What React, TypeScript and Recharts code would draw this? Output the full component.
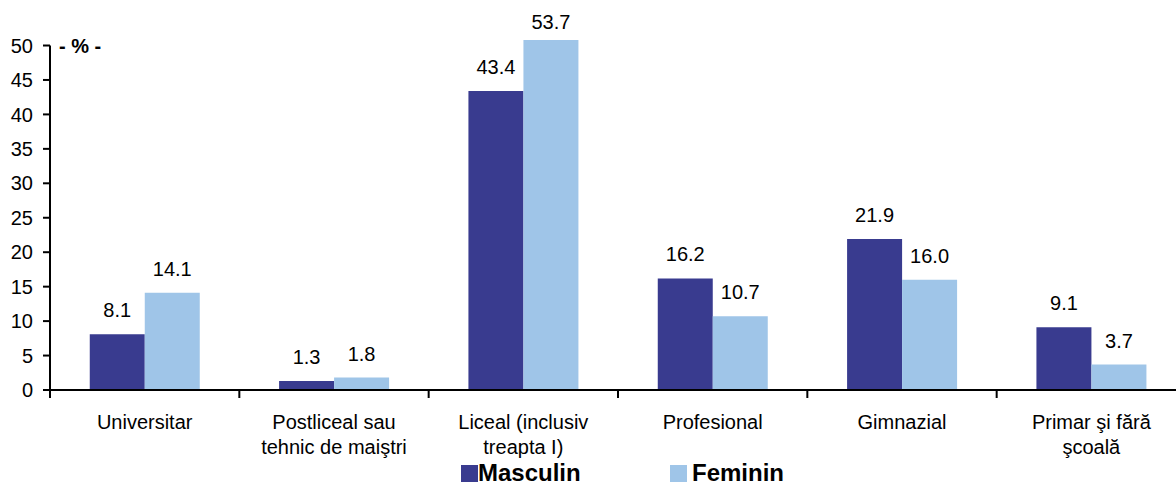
import React from "react";
import {
  BarChart,
  Bar,
  XAxis,
  YAxis,
  Legend,
  LabelList,
  Label,
  ReferenceLine
} from "recharts";

const categories = [
  "Universitar",
  "Postliceal sau tehnic de maiştri",
  "Liceal (inclusiv treapta I)",
  "Profesional",
  "Gimnazial",
  "Primar şi fără şcoală"
];
// how each category label wraps under the axis
const categoryLines = [
  ["Universitar"],
  ["Postliceal sau", "tehnic de maiştri"],
  ["Liceal (inclusiv", "treapta I)"],
  ["Profesional"],
  ["Gimnazial"],
  ["Primar şi fără", "şcoală"]
];
const masculin = [8.1, 1.3, 43.4, 16.2, 21.9, 9.1];
const feminin = [14.1, 1.8, 53.7, 10.7, 16.0, 3.7];
const yTicks = [0, 5, 10, 15, 20, 25, 30, 35, 40, 45, 50];

const FONT = "'Liberation Sans', Arial, sans-serif";
const TOP = 40;

const series = [
  { key: "Masculin", color: "#393b8f" },
  { key: "Feminin", color: "#9fc5e8" }
];

const data = categories.map((name, i) => ({
  name,
  Masculin: masculin[i],
  Feminin: feminin[i]
}));

const CategoryTick = (props: any) => {
  const { x, y, payload } = props;
  const lines: string[] = categoryLines[payload.index] || [payload.value];
  const edge = x - (payload.offset || 0);
  return (
    <g>
      <line x1={edge} y1={y} x2={edge} y2={y + 8} stroke="#000" strokeWidth={2} />
      {lines.map((l, i) => (
        <text
          key={i}
          x={x}
          y={y + 39 + i * 25}
          textAnchor="middle"
          fontSize={20}
          fontFamily={FONT}
          fill="#000"
        >
          {l}
        </text>
      ))}
    </g>
  );
};

const ValueLabel = (props: any) => {
  const { x, y, width, value } = props;
  const top = Math.max(y, TOP + 6);
  return (
    <text
      x={x + width / 2}
      y={top - 17}
      textAnchor="middle"
      fontSize={20}
      fontFamily={FONT}
      fill="#000"
    >
      {Number(value).toFixed(1)}
    </text>
  );
};

const LegendContent = () => (
  <div style={{ display: "flex", fontFamily: FONT }}>
    {series.map((s, i) => (
      <div key={s.key} style={{ display: "flex", alignItems: "flex-start", width: i === 0 ? 209 : "auto" }}>
        <span style={{ display: "inline-block", width: 17, height: 17, marginTop: 4, background: s.color }} />
        <span
          style={{
            fontSize: 24,
            lineHeight: "24px",
            fontWeight: "bold",
            color: "#000",
            marginLeft: i === 0 ? 0 : 5
          }}
        >
          {s.key}
        </span>
      </div>
    ))}
  </div>
);

export default function App() {
  return (
    <div style={{ position: "absolute", left: 0, top: 0, width: 1176, height: 486, overflow: "hidden", background: "#fff" }}>
      <BarChart
        width={1190}
        height={486}
        data={data}
        margin={{ top: TOP, right: 4, left: 0, bottom: 0 }}
        barCategoryGap="21%"
        barGap={0}
      >
        <XAxis
          dataKey="name"
          interval={0}
          height={96}
          tickSize={0}
          tickMargin={0}
          tickLine={false}
          axisLine={{ stroke: "#000", strokeWidth: 2 }}
          tick={<CategoryTick />}
        />
        <XAxis xAxisId="edge" type="number" domain={[0, 1]} hide />
        <YAxis
          domain={[0, 50.8]}
          allowDataOverflow
          ticks={yTicks}
          width={50}
          tickSize={7}
          tickMargin={10}
          axisLine={false}
          tickLine={{ stroke: "#000", strokeWidth: 2 }}
          tick={{ fontSize: 20, fontFamily: FONT, fill: "#000" }}
        >
          <Label
            content={(p: any) => (
              <text
                x={p.viewBox.x + p.viewBox.width + 9}
                y={p.viewBox.y + 13}
                fontSize={20}
                fontWeight="bold"
                fontFamily={FONT}
                fill="#000"
              >
                - % -
              </text>
            )}
          />
        </YAxis>
        <ReferenceLine
          xAxisId="edge"
          segment={[{ x: 0, y: 0 }, { x: 0, y: 50 }]}
          stroke="#000"
          strokeWidth={2}
        />
        <Legend
          layout="horizontal"
          verticalAlign="middle"
          align="center"
          wrapperStyle={{ top: 461, left: 461, width: "auto" }}
          content={<LegendContent />}
        />
        {series.map((s) => (
          <Bar key={s.key} dataKey={s.key} fill={s.color} isAnimationActive={false}>
            <LabelList dataKey={s.key} content={<ValueLabel />} />
          </Bar>
        ))}
      </BarChart>
    </div>
  );
}
